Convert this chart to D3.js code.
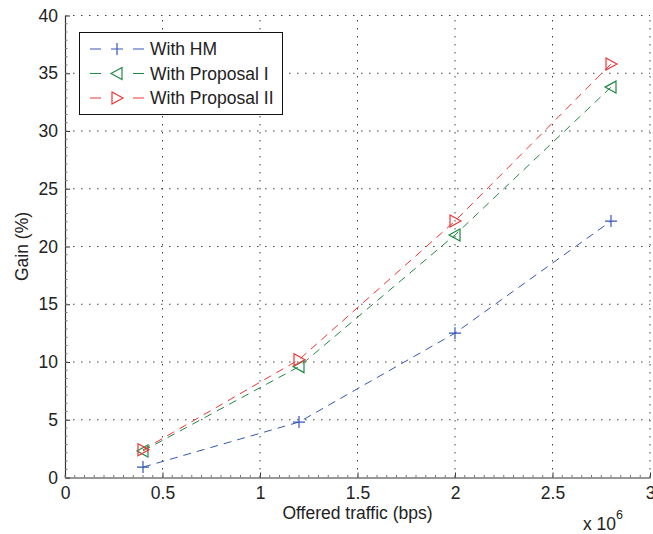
<!DOCTYPE html>
<html>
<head>
<meta charset="utf-8">
<script src="https://cdn.jsdelivr.net/npm/d3@7"></script>
<style>
  html, body { margin: 0; padding: 0; background: #fff; }
  svg { display: block; font-family: "Liberation Sans", Arial, Helvetica, sans-serif; }
</style>
</head>
<body>
<svg id="chart" width="653" height="534"></svg>
<script>
// ---- data ----
const xValues = [0.4, 1.2, 2.0, 2.8];           // offered traffic (x 10^6 bps)
const seriesNames = ["With HM", "With Proposal I", "With Proposal II"];
const gainHM = [0.9, 4.8, 12.5, 22.2];
const gainP1 = [2.3, 9.6, 21.0, 33.8];
const gainP2 = [2.4, 10.2, 22.2, 35.8];
const xTickValues = [0, 0.5, 1, 1.5, 2, 2.5, 3];
const xTickLabels = ["0", "0.5", "1", "1.5", "2", "2.5", "3"];
const yTickValues = [0, 5, 10, 15, 20, 25, 30, 35, 40];

const colors = ["#3557b7", "#1f8a45", "#f03434"];
const markers = ["plus", "left", "right"];
const seriesValues = [gainHM, gainP1, gainP2];

// ---- layout ----
const svg = d3.select("#chart");
const L = 65, T = 15.5, W = 585, H = 462;
const x = d3.scaleLinear().domain([0, 3]).range([L, L + W]);
const y = d3.scaleLinear().domain([0, 40]).range([T + H, T]);
const fs = 17.5;

// grid
const grid = svg.append("g");
grid.selectAll("line.gx").data(xTickValues.slice(1)).enter().append("line")
  .attr("x1", d => x(d)).attr("x2", d => x(d)).attr("y1", y(0)).attr("y2", y(40))
  .attr("stroke", "#444").attr("stroke-width", 1).attr("stroke-dasharray", "1.5,6.5");
grid.selectAll("line.gy").data(yTickValues.slice(1)).enter().append("line")
  .attr("y1", d => y(d)).attr("y2", d => y(d)).attr("x1", x(0)).attr("x2", x(3))
  .attr("stroke", "#444").attr("stroke-width", 1).attr("stroke-dasharray", "1.5,6.5");

// axes
const xAxis = d3.axisBottom(x).tickValues(xTickValues)
  .tickFormat((d, i) => xTickLabels[i]).tickSizeInner(-5).tickSizeOuter(0).tickPadding(9);
const yAxis = d3.axisLeft(y).tickValues(yTickValues).tickSizeInner(-5).tickSizeOuter(0).tickPadding(7);

const gx = svg.append("g").attr("transform", `translate(0,${y(0)})`).call(xAxis);
const gy = svg.append("g").attr("transform", `translate(${x(0)},0)`).call(yAxis);
[gx, gy].forEach(g => {
  g.select(".domain").attr("stroke", "#333").attr("stroke-width", 1.2);
  g.selectAll(".tick line").attr("stroke", "#333");
  g.selectAll(".tick text").attr("fill", "#222").style("font-size", fs + "px")
    .style("font-family", "'Liberation Sans', Arial, sans-serif");
});

// minor ticks
const minorX = d3.range(0, 3.0001, 0.05);
const minorY = d3.range(0, 40.0001, 5 / 7);
svg.append("g").selectAll("line").data(minorX).enter().append("line")
  .attr("x1", d => x(d)).attr("x2", d => x(d)).attr("y1", y(0)).attr("y2", y(0) - 2.5)
  .attr("stroke", "#777").attr("stroke-width", 1);
svg.append("g").selectAll("line").data(minorY).enter().append("line")
  .attr("y1", d => y(d)).attr("y2", d => y(d)).attr("x1", x(0)).attr("x2", x(0) + 2.5)
  .attr("stroke", "#777").attr("stroke-width", 1);

// lines
const line = d3.line().x(d => x(d[0])).y(d => y(d[1]));
seriesValues.forEach((vals, i) => {
  const pts = xValues.map((xv, j) => [xv, vals[j]]);
  svg.append("path").datum(pts).attr("d", line)
    .attr("fill", "none").attr("stroke", colors[i]).attr("stroke-width", 1)
    .attr("stroke-dasharray", "8,6");
});

// marker drawing
function drawMarker(g, type, cx, cy, color) {
  const s = 6;
  if (type === "plus") {
    g.append("path").attr("d", `M${cx - s},${cy}H${cx + s}M${cx},${cy - s}V${cy + s}`)
      .attr("stroke", color).attr("stroke-width", 1.2).attr("fill", "none");
  } else if (type === "left") {
    g.append("path").attr("d", `M${cx - s},${cy}L${cx + s - 1},${cy - s}L${cx + s - 1},${cy + s}Z`)
      .attr("stroke", color).attr("stroke-width", 1.2).attr("fill", "none");
  } else {
    g.append("path").attr("d", `M${cx + s},${cy}L${cx - s + 1},${cy - s}L${cx - s + 1},${cy + s}Z`)
      .attr("stroke", color).attr("stroke-width", 1.2).attr("fill", "none");
  }
}
const mg = svg.append("g");
seriesValues.forEach((vals, i) => {
  xValues.forEach((xv, j) => drawMarker(mg, markers[i], x(xv), y(vals[j]), colors[i]));
});

// legend
const lg = svg.append("g");
lg.append("rect").attr("x", 79.5).attr("y", 32.5).attr("width", 203).attr("height", 82)
  .attr("fill", "#fff").attr("stroke", "#111").attr("stroke-width", 1);
seriesNames.forEach((name, i) => {
  const cy = 49 + i * 24.5;
  lg.append("line").attr("x1", 90).attr("x2", 101).attr("y1", cy).attr("y2", cy)
    .attr("stroke", colors[i]).attr("stroke-width", 1);
  lg.append("line").attr("x1", 133).attr("x2", 144).attr("y1", cy).attr("y2", cy)
    .attr("stroke", colors[i]).attr("stroke-width", 1);
  drawMarker(lg, markers[i], 117, cy, colors[i]);
  lg.append("text").attr("x", 150).attr("y", cy + 6).text(name)
    .attr("fill", "#222").style("font-size", fs + "px");
});

// axis labels
svg.append("text").attr("x", x(1.5)).attr("y", 519).attr("text-anchor", "middle")
  .attr("fill", "#222").style("font-size", fs + "px").text("Offered traffic (bps)");
svg.append("text").attr("transform", `translate(28,${y(20)}) rotate(-90)`)
  .attr("text-anchor", "middle").attr("fill", "#222").style("font-size", fs + "px").text("Gain (%)");
const mult = svg.append("text").attr("x", 583).attr("y", 530).attr("fill", "#222").style("font-size", fs + "px");
mult.append("tspan").text("x 10");
mult.append("tspan").attr("dy", -11).style("font-size", "12.5px").text("6");
</script>
</body>
</html>
